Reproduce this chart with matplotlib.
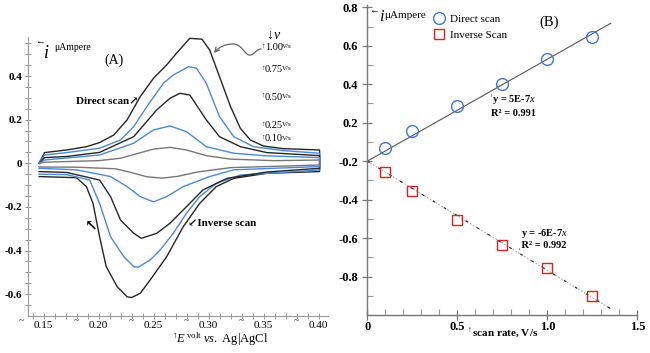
import numpy as np
import matplotlib.pyplot as plt
import matplotlib.ticker as mticker
from matplotlib.patches import FancyArrowPatch
from matplotlib.path import Path
from matplotlib.lines import Line2D

plt.rcParams['font.family'] = ['Liberation Serif', 'DejaVu Serif', 'DejaVu Sans']
plt.rcParams['mathtext.fontset'] = 'custom'
plt.rcParams['mathtext.rm'] = 'Liberation Serif'
plt.rcParams['mathtext.it'] = 'Liberation Serif:italic'
plt.rcParams['mathtext.bf'] = 'Liberation Serif:bold'
plt.rcParams['axes.unicode_minus'] = False

# ---- (A) cyclic voltammograms: E (V vs Ag|AgCl), i (uA) ----
rate_labels = ['1.00', '0.75', '0.50', '0.25', '0.10']
curve_colors = ['#262626', '#4a8ad8', '#262626', '#4a8ad8', '#777777']

fwd_E_100 = [0.146, 0.151, 0.171, 0.189, 0.201, 0.214, 0.226, 0.238, 0.250, 0.262, 0.271, 0.283, 0.294, 0.301, 0.310, 0.320, 0.329, 0.338, 0.350, 0.368, 0.401]
fwd_i_100 = [0.0, 0.049, 0.061, 0.076, 0.095, 0.130, 0.199, 0.306, 0.390, 0.451, 0.505, 0.573, 0.569, 0.520, 0.397, 0.260, 0.160, 0.107, 0.079, 0.067, 0.061]
rev_E_100 = [0.401, 0.353, 0.323, 0.307, 0.292, 0.277, 0.262, 0.247, 0.238, 0.230, 0.226, 0.217, 0.207, 0.201, 0.195, 0.189, 0.180, 0.146]
rev_i_100 = [-0.038, -0.046, -0.069, -0.107, -0.184, -0.291, -0.428, -0.535, -0.596, -0.616, -0.612, -0.566, -0.474, -0.337, -0.184, -0.107, -0.066, -0.061]

fwd_E_075 = [0.146, 0.151, 0.171, 0.201, 0.220, 0.232, 0.244, 0.259, 0.268, 0.282, 0.289, 0.298, 0.310, 0.323, 0.341, 0.368, 0.401]
fwd_i_075 = [0.0, 0.038, 0.049, 0.069, 0.107, 0.168, 0.260, 0.367, 0.405, 0.443, 0.436, 0.367, 0.214, 0.122, 0.076, 0.058, 0.046]
rev_E_075 = [0.401, 0.329, 0.307, 0.292, 0.280, 0.268, 0.256, 0.247, 0.236, 0.232, 0.223, 0.211, 0.201, 0.192, 0.171, 0.146]
rev_i_075 = [-0.031, -0.054, -0.092, -0.153, -0.229, -0.321, -0.398, -0.443, -0.477, -0.474, -0.428, -0.337, -0.184, -0.077, -0.052, -0.050]

fwd_E_050 = [0.146, 0.151, 0.171, 0.201, 0.232, 0.253, 0.265, 0.274, 0.283, 0.298, 0.310, 0.329, 0.353, 0.401]
fwd_i_050 = [0.0, 0.026, 0.031, 0.050, 0.122, 0.245, 0.298, 0.321, 0.313, 0.199, 0.122, 0.076, 0.049, 0.035]
rev_E_050 = [0.401, 0.353, 0.317, 0.295, 0.280, 0.265, 0.253, 0.239, 0.232, 0.220, 0.211, 0.201, 0.171, 0.146]
rev_i_050 = [-0.023, -0.040, -0.069, -0.122, -0.199, -0.275, -0.321, -0.344, -0.321, -0.260, -0.153, -0.077, -0.042, -0.038]

fwd_E_025 = [0.146, 0.151, 0.201, 0.232, 0.250, 0.265, 0.280, 0.298, 0.323, 0.353, 0.401]
fwd_i_025 = [0.0, 0.015, 0.038, 0.092, 0.153, 0.171, 0.145, 0.076, 0.046, 0.034, 0.026]
rev_E_025 = [0.401, 0.323, 0.301, 0.277, 0.262, 0.250, 0.238, 0.226, 0.211, 0.180, 0.146]
rev_i_025 = [-0.015, -0.030, -0.061, -0.107, -0.153, -0.177, -0.153, -0.107, -0.061, -0.030, -0.023]

fwd_E_010 = [0.146, 0.151, 0.200, 0.220, 0.232, 0.250, 0.265, 0.280, 0.298, 0.320, 0.360, 0.401]
fwd_i_010 = [0.0, 0.005, 0.012, 0.023, 0.040, 0.065, 0.073, 0.061, 0.035, 0.019, 0.012, 0.015]
rev_E_010 = [0.401, 0.320, 0.290, 0.272, 0.258, 0.244, 0.228, 0.215, 0.180, 0.146]
rev_i_010 = [-0.008, -0.020, -0.040, -0.060, -0.068, -0.062, -0.040, -0.025, -0.018, -0.017]

a_xticks = [0.15, 0.20, 0.25, 0.30, 0.35, 0.40]
a_yticks = [-0.6, -0.4, -0.2, 0, 0.2, 0.4]
a_yticklabels = ['-0.6', '-0.4', '-0.2', '0', '0.2', '0.4']

# ---- (B) peak current vs scan rate ----
scan_rate = [0.1, 0.25, 0.5, 0.75, 1.0, 1.25]
i_direct = [0.066, 0.156, 0.286, 0.400, 0.530, 0.647]
i_inverse = [-0.056, -0.155, -0.307, -0.436, -0.555, -0.701]
b_yticks = [-0.6, -0.4, -0.2, 0, 0.2, 0.4, 0.6, 0.8]
b_yticklabels = ['-0.8', '-0.6', '-0.4', '-0.2', '0.2', '0.4', '0.6', '0.8']
b_xticks = [0, 0.5, 1.0, 1.5]
b_xticklabels = ['0', '0.5', '1.0', '1.5']

W, H = 650, 353
fig = plt.figure(figsize=(W / 100, H / 100), dpi=100)


def fp(x, y):
    return x / W, 1 - y / H


# ---------------- panel A ----------------
axA = fig.add_axes([28.1 / W, 1 - 315.5 / H, 300.3 / W, 278.5 / H])
curves = [(fwd_E_100, fwd_i_100, rev_E_100, rev_i_100),
          (fwd_E_075, fwd_i_075, rev_E_075, rev_i_075),
          (fwd_E_050, fwd_i_050, rev_E_050, rev_i_050),
          (fwd_E_025, fwd_i_025, rev_E_025, rev_i_025),
          (fwd_E_010, fwd_i_010, rev_E_010, rev_i_010)]
for (fe, fi, re_, ri), col in zip(curves, curve_colors):
    E = np.concatenate([fe, re_])
    I = np.concatenate([fi, ri])
    axA.plot(E, I, color=col, lw=1.0, solid_joinstyle='round')

axA.set_xlim(0.136, 0.409)
axA.set_ylim(-0.698, 0.579)
for s in ['top', 'right']:
    axA.spines[s].set_visible(False)
for s in ['left', 'bottom']:
    axA.spines[s].set_color('#999999')
    axA.spines[s].set_linewidth(0.8)
axA.set_xticks(a_xticks)
axA.set_xticklabels(['%.2f' % t for t in a_xticks])
axA.set_yticks(a_yticks)
axA.set_yticklabels(a_yticklabels)
axA.xaxis.set_minor_locator(mticker.MultipleLocator(0.01))
axA.yaxis.set_minor_locator(mticker.MultipleLocator(0.05))
axA.tick_params(axis='both', which='both', direction='inout', color='#999999',
                length=4, width=0.7)
axA.tick_params(axis='x', pad=2, labelsize=8)
axA.tick_params(axis='y', pad=2, labelsize=8)
for lab in axA.get_yticklabels():
    lab.set_fontweight('bold')
for t in a_xticks:
    axA.text(t - 0.0197, -0.02, '~', transform=axA.get_xaxis_transform(),
             ha='center', va='center', fontsize=7, color='#222222')

fig.text(*fp(35, 42), '\u2190', fontsize=7, ha='left', va='center')
fig.text(*fp(44, 53), 'i', fontsize=13, style='italic', ha='left', va='center')
fig.text(*fp(54, 47), '\u03bcAmpere', fontsize=7, ha='left', va='center')
fig.text(*fp(114, 60), '(A)', fontsize=10, ha='center', va='center')
fig.text(*fp(107, 101), 'Direct scan\u2197', fontsize=8, fontweight='bold',
         ha='center', va='center')
fig.text(*fp(222, 224), '\u2199Inverse scan', fontsize=8, fontweight='bold',
         ha='center', va='center')
fig.text(*fp(91, 227), '\u2196', fontsize=11, fontweight='bold', ha='center', va='center')
fig.text(*fp(264, 35), r'$\downarrow\!\mathit{v}$', fontsize=10, ha='left', va='center')
for lab, y in zip(rate_labels, [48, 70, 97, 126, 139]):
    fig.text(*fp(261, y - 2), '\u2191', fontsize=5, ha='left', va='center')
    fig.text(*fp(265, y), lab, fontsize=7.5, ha='left', va='center')
    fig.text(*fp(282, y - 1), 'V/s', fontsize=5, ha='left', va='center')

verts = [fp(261, 49), fp(256, 49), fp(254, 56), fp(249, 55),
         fp(244, 54), fp(242, 44), fp(233, 44),
         fp(225, 44), fp(219, 47), fp(214, 53)]
codes = [Path.MOVETO] + [Path.CURVE4] * 9
arrow = FancyArrowPatch(path=Path(verts, codes), arrowstyle='->', mutation_scale=8,
                        color='#666666', lw=0.9, transform=fig.transFigure)
fig.add_artist(arrow)

fig.text(*fp(220, 339), r'$^{\uparrow}\!\mathit{E}^{\,\mathrm{volt}}$ $\mathit{vs.}$ Ag|AgCl',
         fontsize=9, ha='center', va='center')

# ---------------- panel B ----------------
axB = fig.add_axes([367.3 / W, 1 - 315 / H, 270 / W, 309.6 / H])
x_arr = np.array(scan_rate)
slope_d = np.sum(x_arr * i_direct) / np.sum(x_arr ** 2)
slope_i = np.sum(x_arr * i_inverse) / np.sum(x_arr ** 2)
xfit = np.array([0, 1.352])
axB.plot(xfit, slope_d * xfit, color='#555555', lw=0.8)
axB.plot(xfit, slope_i * xfit, color='#aaaaaa', lw=0.8, linestyle=(0, (1.5, 1.5)))
axB.plot(xfit, slope_i * xfit, color='#222222', lw=0.8, linestyle=(0, (2.5, 9)))
axB.plot(scan_rate, i_direct, 'o', mfc='none', mec='#3c78d8', ms=8.5, mew=1.0)
axB.plot(scan_rate, i_inverse, 's', mfc='none', mec='#e02020', ms=6.5, mew=1.0)

axB.set_xlim(0, 1.5)
axB.set_ylim(-0.80, 0.81)
for s in ['top', 'right']:
    axB.spines[s].set_visible(False)
for s in ['left', 'bottom']:
    axB.spines[s].set_color('#777777')
    axB.spines[s].set_linewidth(1.0)
axB.set_xticks(b_xticks)
axB.set_xticklabels(b_xticklabels)
axB.set_yticks(b_yticks)
axB.set_yticklabels(b_yticklabels)
axB.xaxis.set_minor_locator(mticker.MultipleLocator(0.1))
axB.yaxis.set_minor_locator(mticker.MultipleLocator(0.1))
axB.tick_params(axis='both', which='major', direction='inout', color='#777777',
                length=7, width=0.9, labelsize=9)
axB.tick_params(axis='x', which='major', pad=1)
axB.tick_params(axis='y', which='major', pad=3)
axB.tick_params(axis='both', which='minor', direction='in', color='#999999',
                length=4, width=0.8)
for lab in axB.get_xticklabels() + axB.get_yticklabels():
    lab.set_fontweight('bold')

handles = [Line2D([], [], marker='o', ls='none', mfc='none', mec='#3c78d8', ms=8.5, mew=1.0),
           Line2D([], [], marker='s', ls='none', mfc='none', mec='#e02020', ms=6.5, mew=1.0)]
axB.legend(handles, ['Direct scan', 'Inverse Scan'], loc='upper left',
           bbox_to_anchor=fp(423, 4), bbox_transform=fig.transFigure,
           frameon=False, fontsize=8, handlelength=1.0, handletextpad=0.5,
           labelspacing=0.6, borderpad=0.4)

fig.text(*fp(369, 11), '\u2190', fontsize=7, ha='left', va='center')
fig.text(*fp(379, 17), 'i', fontsize=12, style='italic', ha='left', va='center')
fig.text(*fp(384, 16), '\u03bcAmpere', fontsize=8, ha='left', va='center')
fig.text(*fp(549, 22), '(B)', fontsize=10.5, ha='center', va='center')
fig.text(*fp(489, 99), '\u02bey = 5E-7$x$', fontsize=7.5, fontweight='bold',
         ha='left', va='center')
fig.text(*fp(491, 113), 'R\u00b2 = 0.991', fontsize=7.5, fontweight='bold',
         ha='left', va='center')
fig.text(*fp(521, 233), 'y = -6E-7$x$', fontsize=7.5, fontweight='bold',
         ha='left', va='center')
fig.text(*fp(518, 246), '\u02ccR\u00b2 = 0.992', fontsize=7.5, fontweight='bold',
         ha='left', va='center')
fig.text(*fp(502, 333), r'$^{\uparrow}$scan rate, V/s', fontsize=8,
         fontweight='bold', ha='center', va='center')

fig.savefig('out.png', dpi=100)
